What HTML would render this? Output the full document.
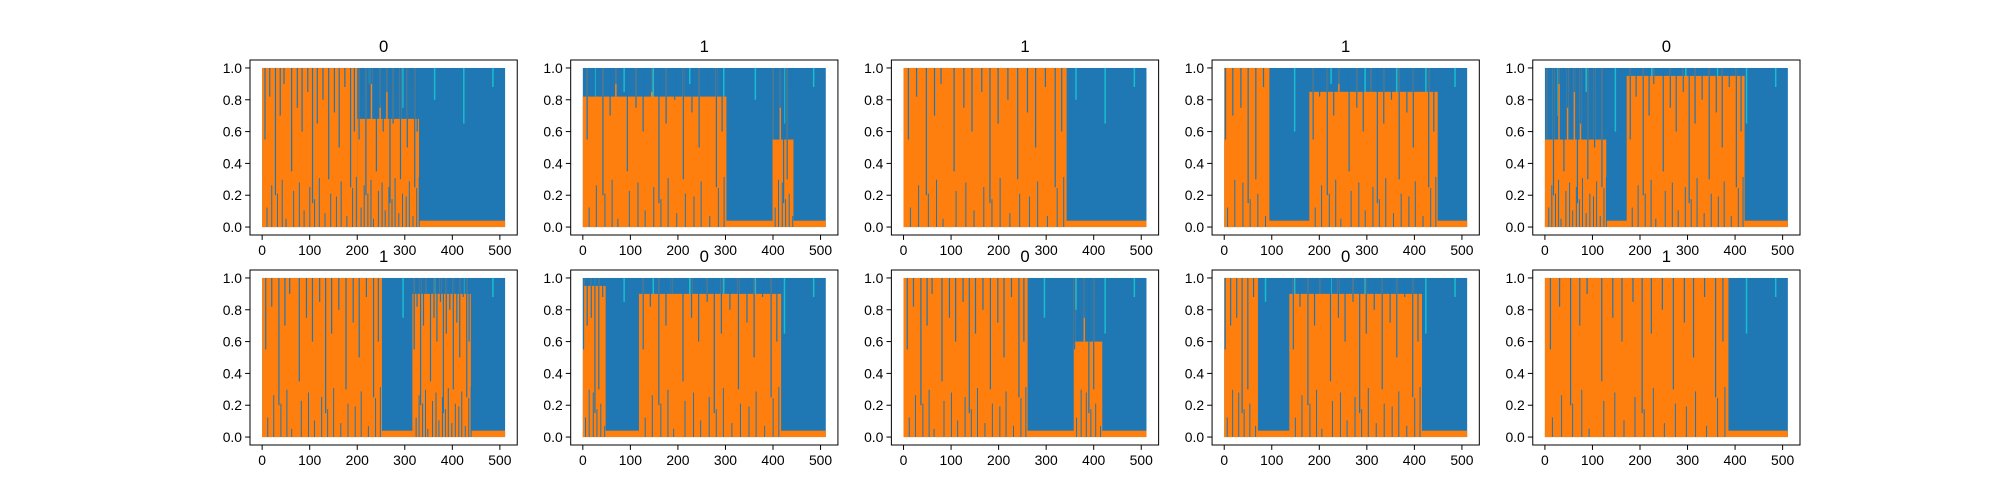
<!DOCTYPE html>
<html><head><meta charset="utf-8"><style>
html,body{margin:0;padding:0;background:#fff;}
svg{display:block;font-family:"Liberation Sans","DejaVu Sans",sans-serif;}
</style></head><body>
<svg id="fig" width="2000" height="500" viewBox="0 0 2000 500"></svg>
<script>
// ---- data ----
const panelTitles = ["0","1","1","1","0","1","0","0","0","1"];
// orange-dominant regions per panel: [start, end, topValue]
const orangeRegions = [
  [[0,200,1.0],[200,330,0.68]],
  [[0,302,0.82],[399,443,0.55]],
  [[0,343,1.0]],
  [[0,95,1.0],[179,449,0.85]],
  [[0,129,0.55],[172,420,0.95]],
  [[0,252,1.0],[316,439,0.9]],
  [[0,48,0.95],[118,417,0.9]],
  [[0,261,1.0],[358,418,0.6]],
  [[0,71,1.0],[137,416,0.9]],
  [[0,386,1.0]]
];
const nPoints = 512;
const xTicks = [0,100,200,300,400,500];
const yTicks = [0.0,0.2,0.4,0.6,0.8,1.0];
// blue notch pattern (relative position within region, depth value reached)
const notchPos = [0.03,0.08,0.14,0.19,0.23,0.31,0.37,0.42,0.48,0.53,0.58,0.64,0.7,0.76,0.81,0.87,0.93,0.97];
const notchDepth = [0.55,0.82,0.2,0.7,0.9,0.35,0.75,0.6,0.85,0.15,0.65,0.8,0.3,0.72,0.5,0.88,0.25,0.6];
const cyanPos = [0.05,0.17,0.29,0.44,0.58,0.71,0.83,0.95];
const cyanDepth = [0.7,0.85,0.6,0.9,0.75,0.8,0.65,0.88];

// ---- layout ----
const NS="http://www.w3.org/2000/svg";
const svg=document.getElementById('fig');
const L=250, R=1800, T=60, B=445, cols=5, rows=2;
const W=(R-L)/(cols+0.2*(cols-1)), H=(B-T)/(rows+0.2*(rows-1));
const xmin=-(nPoints-1)*0.05, xmax=(nPoints-1)*1.05, ymin=-0.05, ymax=1.05;
function mk(tag,attrs,parent){const e=document.createElementNS(NS,tag);for(const k in attrs)e.setAttribute(k,attrs[k]);(parent||svg).appendChild(e);return e;}

for(let p=0;p<10;p++){
  const c=p%cols, r=Math.floor(p/cols);
  const ax=L+c*W*1.2, ay=T+r*H*1.2;
  const xs=v=>ax+(v-xmin)/(xmax-xmin)*W;
  const ys=v=>ay+(ymax-v)/(ymax-ymin)*H;
  const g=mk('g',{});
  
  
  const clip=mk('clipPath',{id:'cp'+p},g);
  mk('rect',{x:ax,y:ay,width:W,height:H},clip);
  const plot=mk('g',{'clip-path':'url(#cp'+p+')'},g);
  
  
  const blue=mk('rect',{x:xs(0),y:ys(1),width:xs(nPoints-1)-xs(0),height:ys(0)-ys(1),fill:'#1f77b4'},plot);
  
  
  for(let i=0;i<cyanPos.length;i++){
    const x=xs(cyanPos[i]*(nPoints-1));
    const l=mk('line',{x1:x,x2:x,y1:ys(1),y2:ys(cyanDepth[i]),stroke:'#17becf','stroke-width':1.5},plot);
    
    
  }
  const trace=mk('rect',{x:xs(0),y:ys(0.04),width:xs(nPoints-1)-xs(0),height:ys(0)-ys(0.04),fill:'#ff7f0e'},plot);
  
  
  orangeRegions[p].forEach(([s,e,top])=>{
    const o=mk('rect',{x:xs(s),y:ys(top),width:xs(e)-xs(s),height:ys(0)-ys(top),fill:'#ff7f0e'},plot);
    
    
    const step=(e-s)<100?3:1;
    if(top<0.99){
      for(let i=0;i<notchPos.length;i+=2*step){
        const x=xs(s+notchPos[i]*(e-s));
        const sp=mk('line',{x1:x,x2:x,y1:ys(top),y2:ys(1),stroke:'#ff7f0e','stroke-width':1.5},plot);
        
        
      }
    }
    for(let i=0;i<notchPos.length;i+=step){
      const x=xs(s+notchPos[i]*(e-s));
      const n=mk('line',{x1:x,x2:x,y1:ys(1),y2:ys(notchDepth[i]),stroke:'#1f77b4','stroke-width':1.2},plot);
      
      
      const m=mk('line',{x1:x+2,x2:x+2,y1:ys(0),y2:ys(notchDepth[(i+5)%notchDepth.length]*0.35),stroke:'#1f77b4','stroke-width':1},plot);
      
      
    }
  });
  const fr=mk('rect',{x:ax,y:ay,width:W,height:H,fill:'none',stroke:'#000','stroke-width':1},g);
  
  
  xTicks.forEach(v=>{
    const x=xs(v);
    const t=mk('line',{x1:x,x2:x,y1:ay+H,y2:ay+H+4.9,stroke:'#000','stroke-width':1},g);
    
    
    const tx=mk('text',{x:x,y:ay+H+20,'font-size':13.9,'text-anchor':'middle',fill:'#000'},g);
    tx.textContent=String(v);
    
    
  });
  yTicks.forEach(v=>{
    const y=ys(v);
    const t=mk('line',{x1:ax-4.9,x2:ax,y1:y,y2:y,stroke:'#000','stroke-width':1},g);
    
    
    const tx=mk('text',{x:ax-8,y:y+5,'font-size':13.9,'text-anchor':'end',fill:'#000'},g);
    tx.textContent=v.toFixed(1);
    
    
  });
  const ti=mk('text',{x:ax+W/2,y:ay-8,'font-size':16.7,'text-anchor':'middle',fill:'#000'},g);
  ti.textContent=panelTitles[p];
  
  
}
</script>
</body></html>
